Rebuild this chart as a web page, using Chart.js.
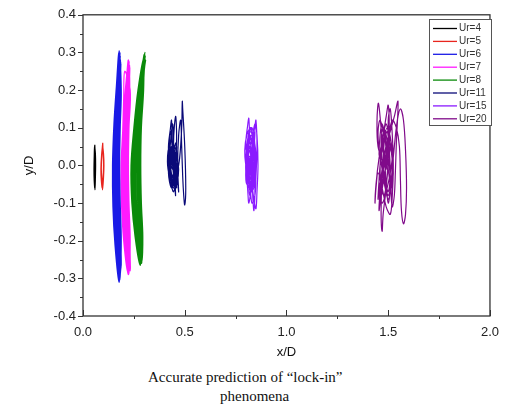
<!DOCTYPE html>
<html>
<head>
<meta charset="utf-8">
<script src="https://cdn.jsdelivr.net/npm/chart.js@4/dist/chart.umd.min.js"></script>
<style>
  body { margin: 0; background: #fff; }
  #wrap { position: relative; width: 508px; height: 414px; }
  #box { position: absolute; left: 0; top: 0; width: 508px; height: 362px; }
  .cap { position: absolute; font-family: "Liberation Serif", "Times New Roman", serif; font-size: 15px; color: #111; white-space: nowrap; }
</style>
</head>
<body>
<div id="wrap">
  <div id="box"><canvas id="myChart"></canvas></div>
  <div class="cap" style="left:148px; top:369px;">Accurate prediction of “lock-in”</div>
  <div class="cap" style="left:220px; top:388px;">phenomena</div>
</div>
<script>
// trajectories of the cylinder centre, x/D against y/D
var seriesNames = ['Ur=4', 'Ur=5', 'Ur=6', 'Ur=7', 'Ur=8', 'Ur=11', 'Ur=15', 'Ur=20'];
var seriesColors = ['#000000', '#e8251e', '#1a1ae6', '#ff1aff', '#0a8a0a', '#0a0a78', '#8a1aff', '#800a8a'];

var xTicks = [0.0, 0.5, 1.0, 1.5, 2.0];
var yTicks = [-0.4, -0.3, -0.2, -0.1, 0.0, 0.1, 0.2, 0.3, 0.4];

var ur4X = [0.058,0.056,0.055,0.056,0.059,0.061,0.062,0.061, 0.057,0.055,0.054,0.055,0.058,0.060,0.061,0.060, 0.058,0.056,0.055,0.056,0.058,0.060,0.061,0.060, 0.058];
var ur4Y = [0.055,0.03,0.0,-0.03,-0.065,-0.03,0.0,0.03, 0.05,0.02,-0.01,-0.04,-0.06,-0.03,0.01,0.03, 0.045,0.02,-0.01,-0.035,-0.055,-0.025,0.0,0.025, 0.055];

var ur5X = [0.097,0.092,0.089,0.091,0.096,0.101,0.103,0.101, 0.096,0.091,0.088,0.090,0.095,0.100,0.102,0.100, 0.095,0.092,0.090,0.092,0.096,0.100,0.101,0.099, 0.097];
var ur5Y = [0.06,0.03,0.0,-0.03,-0.065,-0.03,0.0,0.03, 0.05,0.025,-0.01,-0.04,-0.06,-0.035,0.0,0.03, 0.045,0.02,-0.01,-0.03,-0.05,-0.02,0.01,0.03, 0.06];

// each row: one cycle, down the left side then back up the right side
var ur6X = [
  0.178,0.165,0.153,0.146,0.148,0.158,0.178, 0.170,0.160,0.156,0.160,0.170,
  0.180,0.168,0.156,0.149,0.151,0.161,0.180, 0.174,0.165,0.161,0.165,0.174,
  0.182,0.171,0.160,0.153,0.155,0.165,0.183, 0.178,0.170,0.166,0.170,0.178,
  0.184,0.174,0.164,0.158,0.160,0.169,0.185, 0.182,0.175,0.171,0.175,0.182,
  0.186,0.178,0.169,0.163,0.165,0.173,0.187, 0.186,0.180,0.177,0.180,0.186,
  0.179,0.167,0.155,0.148,0.150,0.160,0.181, 0.184,0.178,0.175,0.178,0.185,
  0.181,0.170,0.158,0.151,0.153,0.163,0.182, 0.188,0.183,0.180,0.183,0.188,
  0.177,0.164,0.152,0.145,0.147,0.157,0.176, 0.172,0.163,0.158,0.163,0.172,
  0.183,0.173,0.162,0.156,0.158,0.167,0.184, 0.180,0.172,0.168,0.172,0.180,
  0.185,0.176,0.166,0.160,0.162,0.171,0.186, 0.185,0.178,0.174,0.178,0.185, 0.178];
var ur6Y = [
  0.305,0.21,0.11,0.0,-0.11,-0.21,-0.31, -0.21,-0.11,0.0,0.11,0.21,
  0.29,0.21,0.11,0.0,-0.11,-0.21,-0.30, -0.21,-0.11,0.0,0.11,0.21,
  0.30,0.21,0.11,0.0,-0.11,-0.21,-0.29, -0.21,-0.11,0.0,0.11,0.21,
  0.28,0.2,0.1,0.0,-0.1,-0.2,-0.28, -0.2,-0.1,0.0,0.1,0.2,
  0.27,0.2,0.1,0.0,-0.1,-0.2,-0.27, -0.2,-0.1,0.0,0.1,0.2,
  0.295,0.21,0.11,0.0,-0.11,-0.21,-0.305, -0.21,-0.11,0.0,0.11,0.21,
  0.285,0.2,0.1,0.0,-0.1,-0.2,-0.29, -0.2,-0.1,0.0,0.1,0.2,
  0.30,0.21,0.11,0.0,-0.11,-0.21,-0.31, -0.21,-0.11,0.0,0.11,0.21,
  0.29,0.2,0.1,0.0,-0.1,-0.2,-0.285, -0.2,-0.1,0.0,0.1,0.2,
  0.275,0.2,0.1,0.0,-0.1,-0.2,-0.275, -0.2,-0.1,0.0,0.1,0.2, 0.305];

var ur7X = [
  0.222,0.208,0.196,0.188,0.190,0.201,0.222, 0.214,0.203,0.199,0.203,0.214,
  0.224,0.211,0.199,0.191,0.193,0.204,0.224, 0.218,0.208,0.204,0.208,0.218,
  0.226,0.214,0.203,0.195,0.197,0.208,0.227, 0.222,0.213,0.209,0.213,0.222,
  0.228,0.217,0.207,0.200,0.202,0.212,0.229, 0.226,0.218,0.214,0.218,0.226,
  0.230,0.221,0.212,0.205,0.207,0.216,0.231, 0.230,0.223,0.220,0.223,0.230,
  0.223,0.210,0.198,0.190,0.192,0.203,0.225, 0.228,0.221,0.218,0.221,0.229,
  0.225,0.213,0.201,0.193,0.195,0.206,0.226, 0.232,0.226,0.223,0.226,0.232,
  0.205,0.200,0.195,0.187,0.189,0.200,0.220, 0.216,0.206,0.201,0.206,0.216,
  0.227,0.216,0.205,0.198,0.200,0.210,0.228, 0.224,0.215,0.211,0.215,0.224,
  0.229,0.219,0.209,0.202,0.204,0.214,0.232, 0.229,0.221,0.217,0.221,0.229, 0.222];
var ur7Y = [
  0.28,0.2,0.1,0.0,-0.1,-0.2,-0.29, -0.2,-0.1,0.0,0.1,0.2,
  0.275,0.2,0.1,0.0,-0.1,-0.2,-0.285, -0.2,-0.1,0.0,0.1,0.2,
  0.27,0.2,0.1,0.0,-0.1,-0.2,-0.28, -0.2,-0.1,0.0,0.1,0.2,
  0.265,0.19,0.1,0.0,-0.1,-0.19,-0.275, -0.19,-0.1,0.0,0.1,0.19,
  0.26,0.19,0.1,0.0,-0.1,-0.19,-0.27, -0.19,-0.1,0.0,0.1,0.19,
  0.28,0.2,0.1,0.0,-0.1,-0.2,-0.29, -0.2,-0.1,0.0,0.1,0.2,
  0.27,0.2,0.1,0.0,-0.1,-0.2,-0.28, -0.2,-0.1,0.0,0.1,0.2,
  0.25,0.18,0.09,0.0,-0.1,-0.2,-0.285, -0.2,-0.1,0.0,0.1,0.19,
  0.275,0.2,0.1,0.0,-0.1,-0.19,-0.27, -0.19,-0.1,0.0,0.1,0.2,
  0.265,0.19,0.1,0.0,-0.1,-0.2,-0.28, -0.2,-0.1,0.0,0.1,0.19, 0.28];

var ur8X = [
  0.300,0.272,0.252,0.238,0.242,0.258,0.282, 0.270,0.258,0.252,0.258,0.272,
  0.302,0.275,0.256,0.242,0.246,0.262,0.284, 0.275,0.263,0.258,0.263,0.277,
  0.304,0.279,0.260,0.247,0.251,0.266,0.286, 0.280,0.269,0.264,0.269,0.282,
  0.306,0.283,0.265,0.252,0.256,0.270,0.288, 0.285,0.275,0.270,0.275,0.287,
  0.308,0.287,0.270,0.258,0.261,0.274,0.290, 0.290,0.281,0.277,0.281,0.292,
  0.298,0.270,0.250,0.236,0.240,0.256,0.280, 0.292,0.284,0.281,0.285,0.296,
  0.303,0.277,0.258,0.245,0.248,0.264,0.285, 0.288,0.279,0.274,0.279,0.290,
  0.305,0.281,0.263,0.250,0.253,0.268,0.287, 0.272,0.260,0.255,0.260,0.274,
  0.284,0.268,0.254,0.244,0.247,0.261,0.283, 0.283,0.272,0.267,0.272,0.285,
  0.307,0.285,0.268,0.255,0.259,0.272,0.289, 0.294,0.287,0.284,0.287,0.298, 0.300];
var ur8Y = [
  0.295,0.2,0.1,0.0,-0.1,-0.19,-0.265, -0.19,-0.1,0.0,0.1,0.2,
  0.29,0.2,0.1,0.0,-0.1,-0.19,-0.26, -0.19,-0.1,0.0,0.1,0.2,
  0.30,0.2,0.1,0.0,-0.1,-0.19,-0.255, -0.19,-0.1,0.0,0.1,0.2,
  0.29,0.2,0.1,0.0,-0.1,-0.19,-0.26, -0.19,-0.1,0.0,0.1,0.2,
  0.28,0.2,0.1,0.0,-0.1,-0.18,-0.25, -0.18,-0.1,0.0,0.1,0.2,
  0.285,0.2,0.1,0.0,-0.1,-0.19,-0.265, -0.19,-0.1,0.0,0.1,0.2,
  0.295,0.2,0.1,0.0,-0.1,-0.18,-0.25, -0.18,-0.1,0.0,0.1,0.2,
  0.29,0.2,0.1,0.0,-0.1,-0.19,-0.26, -0.19,-0.1,0.0,0.1,0.2,
  0.245,0.18,0.09,0.0,-0.1,-0.18,-0.245, -0.18,-0.09,0.0,0.09,0.18,
  0.28,0.2,0.1,0.0,-0.1,-0.19,-0.255, -0.19,-0.1,0.0,0.1,0.2, 0.295];

var ur11X = [0.44,0.42,0.43,0.435,0.44,0.45,0.46,0.455,0.445,0.455,0.46,0.455,0.44,0.425,0.415,0.425,0.445,0.465,0.47,0.465,
  0.47,0.48,0.485,0.49,0.495,0.50,0.505,0.50,0.49,0.488,0.485,0.475,0.46,0.445,0.43,0.42,0.43,0.44,0.445,0.44,
  0.45,0.455,0.45,0.435,0.425,0.44,0.455,0.46,0.45,0.44,0.43,0.435,0.45,0.445,0.43,0.42,0.435,0.45,0.44,
  0.43,0.425,0.44,0.45,0.44,0.425,0.43,0.445,0.455,0.45,0.435,0.43,0.44,0.455,0.445,0.43,0.42,0.435,0.45,0.44,
  0.425,0.43,0.44,0.45,0.46,0.455,0.44,
  0.43,0.45,0.465,0.455,0.44,0.425,0.42,0.435,0.455,0.47,0.46,0.445,0.43,0.42,0.43,0.45,0.465,0.46,0.44,0.425,
  0.43,0.445,0.46,0.455,0.435,0.425,0.44,0.45,0.44];
var ur11Y = [0.00,0.04,0.10,0.12,0.05,-0.02,-0.06,-0.02,0.06,0.13,0.08,0.00,-0.05,-0.03,0.01,0.05,0.03,-0.04,-0.07,0.00,
  0.08,0.12,0.05,-0.03,-0.08,-0.105,-0.06,0.05,0.15,0.17,0.10,0.02,-0.03,-0.07,-0.04,0.00,0.06,0.11,0.07,0.01,
  -0.05,-0.08,-0.03,0.02,0.03,-0.01,0.02,0.05,0.00,-0.03,0.00,0.04,0.04,-0.02,-0.04,0.01,0.03,0.00,0.00,
  0.02,-0.02,-0.04,0.00,0.03,0.04,-0.01,-0.05,-0.01,0.03,0.05,0.00,-0.03,0.01,0.04,0.02,-0.02,-0.06,-0.04,0.00,
  0.06,0.09,0.04,-0.01,0.02,0.06,0.02,
  0.04,0.02,-0.03,-0.06,-0.04,-0.01,0.03,0.05,0.03,-0.01,-0.05,-0.06,-0.03,0.00,0.04,0.05,0.01,-0.04,-0.05,-0.02,
  0.02,0.04,0.00,-0.03,-0.04,0.00,0.03,0.01,0.00];

var ur15X = [0.82,0.80,0.81,0.815,0.82,0.83,0.835,0.84,0.845,0.84,0.845,0.85,0.855,0.85,0.845,0.83,0.82,0.80,0.795,0.805,
  0.825,0.835,0.83,0.825,0.815,0.81,0.805,0.81,0.83,0.845,0.855,0.86,0.855,0.85,0.84,0.825,0.81,0.80,0.81,0.825,
  0.835,0.83,0.82,0.815,0.82,0.835,0.845,0.84,0.835,0.82,
  0.81,0.80,0.805,0.82,0.83,0.825,0.81,0.80,0.815,0.83,0.84,0.835,0.82,0.81,0.805,0.815,0.825,0.835,0.84,0.83,
  0.82,0.81,0.82,0.83,
  0.81,0.825,0.84,0.845,0.835,0.815,0.80,0.805,0.82,0.84,0.85,0.845,0.83,0.81,0.80,0.81,0.83,0.845,0.84,0.82,
  0.805,0.815,0.835,0.845,0.83,0.815,0.82];
var ur15Y = [0.00,0.05,0.11,0.125,0.06,-0.02,-0.09,-0.12,-0.06,0.03,0.10,0.12,0.05,-0.03,-0.08,-0.10,-0.05,0.00,0.04,0.08,
  0.10,0.05,0.00,-0.06,-0.10,-0.07,-0.02,0.03,0.07,0.11,0.08,0.00,-0.07,-0.115,-0.09,-0.03,0.02,0.06,0.09,0.04,
  -0.01,-0.06,-0.08,-0.04,0.01,0.06,0.09,0.04,-0.02,0.00,
  0.04,-0.01,-0.05,-0.02,0.03,0.07,0.05,0.02,-0.03,-0.05,-0.01,0.04,0.08,0.06,0.01,-0.02,0.02,0.08,0.05,0.00,
  -0.04,0.00,0.04,0.02,
  0.03,0.08,0.06,0.00,-0.05,-0.06,-0.02,0.05,0.09,0.07,0.02,-0.04,-0.07,-0.04,0.01,0.07,0.10,0.05,-0.02,-0.05,
  0.00,0.05,0.03,-0.03,-0.06,-0.01,0.02];

var ur20X = [1.48,1.45,1.445,1.452,1.465,1.48,1.49,1.50,1.51,1.505,1.50,1.51,1.52,1.525,1.52,1.51,1.49,1.47,1.45,1.44,
  1.435,1.44,1.455,1.475,1.49,1.50,1.505,1.50,1.49,1.475,1.47,1.465,1.47,1.485,1.515,1.53,1.548,1.54,1.535,1.53,
  1.52,1.515,1.53,1.545,1.56,1.575,1.585,1.59,1.585,1.575,1.565,1.56,1.555,1.54,1.52,1.50,1.48,1.46,1.45,1.455,
  1.465,1.48,1.49,1.50,1.515,1.525,1.52,1.505,1.49,1.48,1.47,1.48,
  1.47,1.46,1.465,1.48,1.495,1.50,1.49,1.475,1.465,1.47,1.485,1.50,1.51,1.505,1.495,1.48,1.475,1.485,1.50,1.515,
  1.52,1.51,1.495,1.49,1.48,1.47,1.46,1.455,1.465,1.48,1.49,1.485,1.47,1.46,1.455,
  1.46,1.475,1.49,1.505,1.52,1.515,1.50,1.485,1.47,1.455,1.45,1.46,1.48,1.50,1.515,1.525,1.515,1.495,1.475,1.46,
  1.455,1.47,1.49,1.51,1.52,1.505,1.485,1.465,1.46,1.475,1.495,1.51,1.50,1.48];
var ur20Y = [0.00,0.05,0.12,0.165,0.10,0.03,-0.05,-0.10,-0.06,0.04,0.12,0.15,0.08,0.00,-0.08,-0.13,-0.11,-0.06,-0.02,-0.06,
  -0.10,-0.05,0.02,0.08,0.13,0.16,0.10,0.02,-0.06,-0.13,-0.175,-0.12,-0.04,0.04,0.10,0.13,0.17,0.06,-0.02,-0.08,
  -0.11,-0.05,0.05,0.12,0.15,0.12,0.04,-0.06,-0.13,-0.155,-0.12,-0.04,0.05,0.10,0.12,0.07,0.00,-0.05,-0.09,-0.04,
  0.03,0.09,0.05,-0.01,-0.06,-0.02,0.04,0.06,0.02,-0.03,0.01,0.00,
  0.05,0.00,-0.06,-0.08,-0.03,0.03,0.08,0.10,0.06,0.01,-0.04,-0.07,-0.02,0.04,0.09,0.06,0.00,-0.05,-0.08,-0.04,
  0.02,0.07,0.04,-0.01,0.03,-0.02,-0.07,-0.12,-0.08,-0.03,0.02,0.07,0.11,0.08,0.03,
  0.02,0.08,0.11,0.07,0.01,-0.05,-0.09,-0.06,-0.01,0.04,0.09,0.12,0.08,0.02,-0.04,-0.01,0.06,0.10,0.06,0.00,
  -0.06,-0.10,-0.07,-0.02,0.03,0.08,0.04,-0.03,-0.08,-0.04,0.01,0.05,0.02,0.00];

var xs = [ur4X, ur5X, ur6X, ur7X, ur8X, ur11X, ur15X, ur20X];
var ys = [ur4Y, ur5Y, ur6Y, ur7Y, ur8Y, ur11Y, ur15Y, ur20Y];

function toPoints(xv, yv) {
  var pts = [];
  for (var i = 0; i < xv.length; i++) pts.push({ x: xv[i], y: yv[i] });
  return pts;
}

var datasets = seriesNames.map(function (name, i) {
  return {
    label: name,
    data: toPoints(xs[i], ys[i]),
    showLine: true,
    borderColor: seriesColors[i],
    backgroundColor: seriesColors[i],
    borderWidth: 1.2,
    pointRadius: 0,
    tension: 0.35
  };
});

// frame, tick marks and the boxed legend in the upper right corner
var framePlugin = {
  id: 'frame',
  afterDraw: function (chart) {
    var ctx = chart.ctx, a = chart.chartArea;
    var sx = chart.scales.x, sy = chart.scales.y;
    ctx.save();
    ctx.strokeStyle = '#333';
    ctx.lineWidth = 1.3;
    ctx.strokeRect(a.left, a.top, a.right - a.left, a.bottom - a.top);
    ctx.lineWidth = 1;
    ctx.beginPath();
    for (var k = 0; k <= 16; k++) {
      var py = Math.round(sy.getPixelForValue(-0.4 + k * 0.05)) + 0.5;
      var len = (k % 2 === 0) ? 5 : 3;
      ctx.moveTo(a.left, py); ctx.lineTo(a.left - len, py);
    }
    for (var j = 0; j <= 8; j++) {
      var px = Math.round(sx.getPixelForValue(j * 0.25)) + 0.5;
      if (j % 2 === 0) { ctx.moveTo(px, a.bottom); ctx.lineTo(px, a.bottom - 6); }
      else { ctx.moveTo(px, a.bottom); ctx.lineTo(px, a.bottom + 3); }
    }
    ctx.stroke();

    // legend
    var lx = 429, ly = 19, lw = 62, lh = 106;
    ctx.fillStyle = '#fff';
    ctx.fillRect(lx, ly, lw, lh);
    ctx.strokeStyle = '#555';
    ctx.strokeRect(lx + 0.5, ly + 0.5, lw, lh);
    ctx.font = '10px "Liberation Sans", Arial, sans-serif';
    ctx.textBaseline = 'middle';
    chart.data.datasets.forEach(function (ds, i) {
      var ry = ly + 9.5 + i * 12.9;
      ctx.strokeStyle = ds.borderColor;
      ctx.lineWidth = 1.3;
      ctx.beginPath(); ctx.moveTo(lx + 4, ry); ctx.lineTo(lx + 28, ry); ctx.stroke();
      ctx.fillStyle = '#333';
      ctx.fillText(ds.label, lx + 30, ry);
    });
    ctx.restore();
  }
};

var ctx = document.getElementById('myChart').getContext('2d');
var chart = new Chart(ctx, {
  type: 'scatter',
  data: { datasets: datasets },
  plugins: [framePlugin],
  options: {
    responsive: true,
    maintainAspectRatio: false,
    animation: false,
    layout: { padding: { left: 0, right: 9, top: 10, bottom: 0 } },
    plugins: { legend: { display: false }, tooltip: { enabled: false } },
    scales: {
      x: {
        type: 'linear', min: 0, max: 2,
        afterBuildTicks: function (s) { s.ticks = xTicks.map(function (v) { return { value: v }; }); },
        afterFit: function (s) { s.height = 46; },
        grid: { display: false, drawTicks: false },
        border: { display: false },
        ticks: { padding: 9, color: '#222', font: { size: 13, family: '"Liberation Sans", Arial, sans-serif' },
                 maxRotation: 0, callback: function (v) { return v.toFixed(1); } },
        title: { display: true, text: 'x/D', color: '#111', padding: { top: 2, bottom: 2 },
                 font: { size: 13, family: '"Liberation Sans", Arial, sans-serif' } }
      },
      y: {
        type: 'linear', min: -0.4, max: 0.4,
        afterBuildTicks: function (s) { s.ticks = yTicks.map(function (v) { return { value: v }; }); },
        afterFit: function (s) { s.width = 83; },
        grid: { display: false, drawTicks: false },
        border: { display: false },
        ticks: { padding: 7, color: '#222', font: { size: 13, family: '"Liberation Sans", Arial, sans-serif' },
                 callback: function (v) { return v.toFixed(1); } },
        title: { display: true, text: 'y/D', color: '#111', padding: { top: 22, bottom: 0 },
                 font: { size: 13, family: '"Liberation Sans", Arial, sans-serif' } }
      }
    }
  }
});
</script>
</body>
</html>
